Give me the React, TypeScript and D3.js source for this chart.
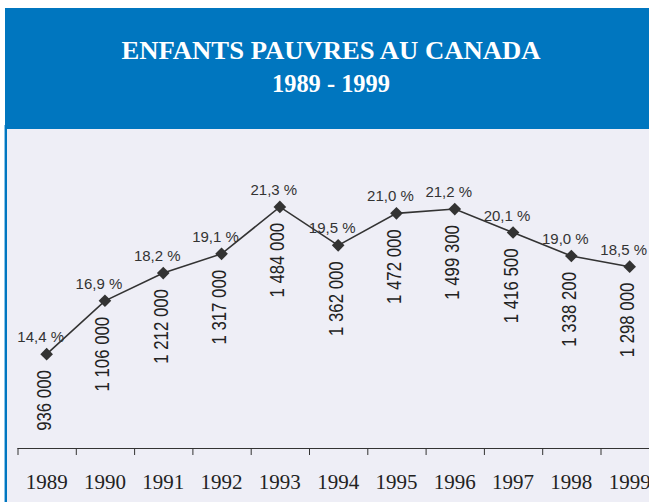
import * as d3 from "d3";

// Enfants pauvres au Canada, 1989-1999
const years = ["1989", "1990", "1991", "1992", "1993", "1994", "1995", "1996", "1997", "1998", "1999"];
const rates = [14.4, 16.9, 18.2, 19.1, 21.3, 19.5, 21.0, 21.2, 20.1, 19.0, 18.5];
const counts = [936000, 1106000, 1212000, 1317000, 1484000, 1362000, 1472000, 1499300, 1416500, 1338200, 1298000];

const titleLines = ["ENFANTS PAUVRES AU CANADA", "1989 - 1999"];

const W = 649;
const H = 502;
const blue = "#0076BF";
const panel = "#EEEEF6";
const ink = "#333333";

const fr = d3.formatLocale({ decimal: ",", thousands: " ", grouping: [3], currency: ["", ""] });
const fmtCount = fr.format(",");
const fmtRate = (v: number) => fr.format(".1f")(v) + " %";

export default function App() {
  const x = d3.scaleBand<string>().domain(years).range([17.5, 17.5 + 58.3 * years.length]);
  const y = d3.scaleLinear().domain([10, 25]).range([448, 128]);

  const pts = years.map((yr, i) => ({
    yr,
    rate: rates[i],
    count: counts[i],
    cx: (x(yr) ?? 0) + x.bandwidth() / 2,
    cy: y(rates[i]),
  }));

  const line = d3
    .line<(typeof pts)[number]>()
    .x((d) => d.cx)
    .y((d) => d.cy);

  const diamond = d3.symbol().type(d3.symbolSquare).size(80)();

  return (
    <svg width={W} height={H} style={{ position: "absolute", left: 0, top: 0 }}>
      <rect width={W} height={H} fill="#ffffff" />
      {/* header */}
      <rect x={5} y={8} width={W - 5} height={121} fill={blue} />
      {/* plot panel */}
      <rect x={5} y={129} width={W - 5} height={H - 129} fill={panel} />
      <rect x={4} y={125} width={1} height={H - 125} fill="#8cc4e8" />
      <rect x={5} y={128} width={2} height={H - 128} fill={blue} />

      <text
        x={331}
        y={59}
        textAnchor="middle"
        fill="#ffffff"
        fontFamily="'Liberation Serif', 'Times New Roman', serif"
        fontWeight="bold"
        fontSize={26}
        textLength={419}
        lengthAdjust="spacingAndGlyphs"
      >
        {titleLines[0]}
      </text>
      <text
        x={331}
        y={91.5}
        textAnchor="middle"
        fill="#ffffff"
        fontFamily="'Liberation Serif', 'Times New Roman', serif"
        fontWeight="bold"
        fontSize={26}
        textLength={118}
        lengthAdjust="spacingAndGlyphs"
      >
        {titleLines[1]}
      </text>

      {/* x axis */}
      <g stroke={ink} strokeWidth={1}>
        <line x1={x.range()[0]} x2={W} y1={448.5} y2={448.5} />
        {years.map((yr) => (
          <line key={yr} x1={(x(yr) ?? 0) + 0.5} x2={(x(yr) ?? 0) + 0.5} y1={448} y2={455} />
        ))}
      </g>
      {pts.map((d) => (
        <text
          key={"yl" + d.yr}
          x={d.cx}
          y={489}
          textAnchor="middle"
          fill="#222"
          fontFamily="'Liberation Serif', 'Times New Roman', serif"
          fontSize={21}
        >
          {d.yr}
        </text>
      ))}

      {/* series */}
      <path d={line(pts) ?? ""} fill="none" stroke={ink} strokeWidth={1.6} />
      {pts.map((d) => (
        <path key={"m" + d.yr} d={diamond ?? ""} fill={ink} transform={`translate(${d.cx},${d.cy}) rotate(45)`} />
      ))}

      {pts.map((d) => (
        <text
          key={"r" + d.yr}
          x={d.cx - 6}
          y={d.cy - 12}
          textAnchor="middle"
          fill={ink}
          fontFamily="'Liberation Sans', Arial, sans-serif"
          fontSize={15}
        >
          {fmtRate(d.rate)}
        </text>
      ))}

      {pts.map((d) => (
        <text
          key={"c" + d.yr}
          transform={`translate(${d.cx + 4.5},${d.cy + 16}) rotate(-90) scale(0.8,1)`}
          textAnchor="end"
          fill="#222"
          fontFamily="'Liberation Sans', Arial, sans-serif"
          fontSize={21}
        >
          {fmtCount(d.count)}
        </text>
      ))}
    </svg>
  );
}
